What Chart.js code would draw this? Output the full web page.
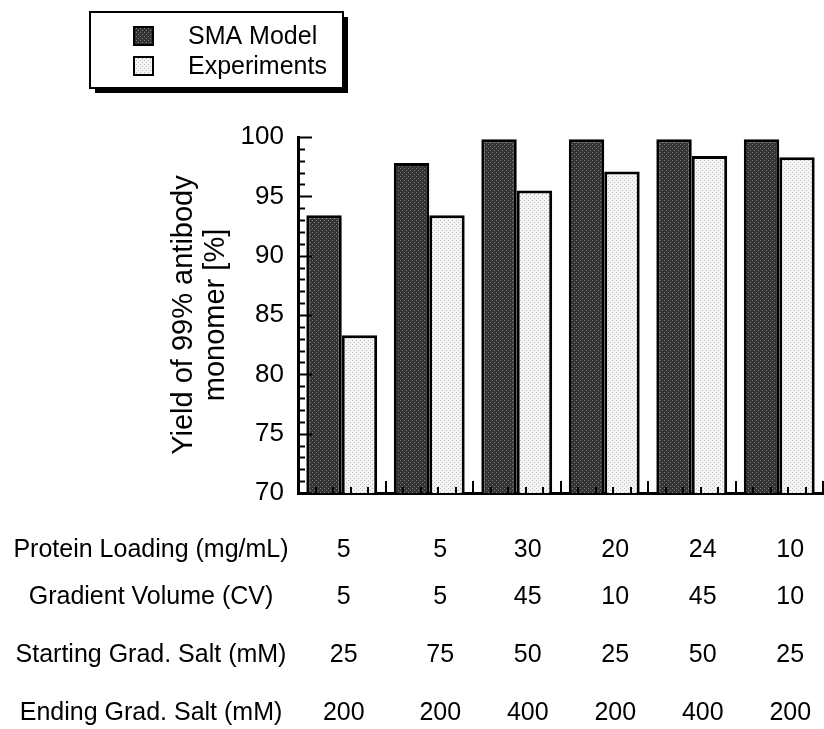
<!DOCTYPE html>
<html>
<head>
<meta charset="utf-8">
<script src="https://cdn.jsdelivr.net/npm/chart.js@4.4.1/dist/chart.umd.min.js"></script>
<style>
  html, body { margin: 0; padding: 0; background: #fff; }
  #wrap { width: 824px; height: 729px; }
</style>
</head>
<body>
<div id="wrap"><canvas id="chart" width="824" height="729"></canvas></div>
<script>
// runs (categories along x)
const runs = ["Run 1", "Run 2", "Run 3", "Run 4", "Run 5", "Run 6"];

// yield of 99% antibody monomer [%]
const smaModel = [93.4, 97.8, 99.8, 99.8, 99.8, 99.8];
const experiments = [83.3, 93.4, 95.5, 97.1, 98.4, 98.3];

// operating conditions table under the plot
const rowLabels = [
  "Protein Loading (mg/mL)",
  "Gradient Volume (CV)",
  "Starting Grad. Salt (mM)",
  "Ending Grad. Salt (mM)"
];
const proteinLoading = ["5", "5", "30", "20", "24", "10"];
const gradientVolume = ["5", "5", "45", "10", "45", "10"];
const startSalt = ["25", "75", "50", "25", "50", "25"];
const endSalt = ["200", "200", "400", "200", "400", "200"];
const tableRows = [proteinLoading, gradientVolume, startSalt, endSalt];

const FONT = "'Liberation Sans', Arial, Helvetica, sans-serif";

// speckled grey fills, like the halftone of the scan
function speckle(dark, light, mod) {
  const c = document.createElement("canvas");
  c.width = 8; c.height = 8;
  const g = c.getContext("2d");
  g.fillStyle = dark;
  g.fillRect(0, 0, 8, 8);
  g.fillStyle = light;
  for (let y = 0; y < 8; y++) {
    for (let x = 0; x < 8; x++) {
      if ((x * 5 + y * 3 + x * y) % mod === 0) g.fillRect(x, y, 1, 1);
    }
  }
  return g.createPattern(c, "repeat");
}

const ctx = document.getElementById("chart").getContext("2d");
const darkFill = speckle("#333333", "#808080", 4);
const lightFill = speckle("#f4f4f4", "#bdbdbd", 4);

const extras = {
  id: "extras",
  afterDatasetsDraw(chart) {
    const { ctx, chartArea, scales: { x, y } } = chart;
    ctx.save();
    ctx.strokeStyle = "#000";
    ctx.lineWidth = 2;
    // inward y ticks: every 1 (minor), every 5 (major)
    for (let v = y.min; v <= y.max; v++) {
      const py = Math.round(y.getPixelForValue(v)) + 0.5;
      const len = v % 5 === 0 ? 14 : 7;
      ctx.beginPath();
      ctx.moveTo(chartArea.left, py);
      ctx.lineTo(chartArea.left + len, py);
      ctx.stroke();
    }
    // upward x ticks: category borders and fifths
    const n = runs.length;
    for (let i = 0; i < n; i++) {
      for (let k = 1; k <= 5; k++) {
        const px = Math.round(x.getPixelForValue(i - 0.5 + k / 5));
        const len = k === 5 ? 12 : 6;
        ctx.beginPath();
        ctx.moveTo(px, chartArea.bottom);
        ctx.lineTo(px, chartArea.bottom - len);
        ctx.stroke();
      }
    }
    ctx.restore();
  },
  afterDraw(chart) {
    const { ctx, scales: { x } } = chart;
    ctx.save();
    // legend box with drop shadow
    const bx = 90, by = 12, bw = 253, bh = 76;
    ctx.fillStyle = "#000";
    ctx.fillRect(bx + 5, by + 5, bw, bh);
    ctx.fillStyle = "#fff";
    ctx.fillRect(bx, by, bw, bh);
    ctx.lineWidth = 2;
    ctx.strokeStyle = "#000";
    ctx.strokeRect(bx, by, bw, bh);
    ctx.font = "25px " + FONT;
    ctx.textBaseline = "middle";
    ctx.textAlign = "left";
    chart.data.datasets.forEach((ds, i) => {
      const sy = 27 + i * 30;
      ctx.fillStyle = ds.backgroundColor;
      ctx.fillRect(134, sy, 19, 18);
      ctx.strokeRect(134, sy, 19, 18);
      ctx.fillStyle = "#000";
      ctx.fillText(ds.label, 188, sy + 10);
    });
    // conditions table
    const rowY = [550, 597, 655, 713];
    ctx.fillStyle = "#000";
    tableRows.forEach((row, r) => {
      ctx.textAlign = "center";
      ctx.fillText(rowLabels[r], 151, rowY[r]);
      row.forEach((val, i) => {
        const px = x.getPixelForValue(i) + (i ? 11 : 2);
        ctx.fillText(val, px, rowY[r]);
      });
    });
    ctx.restore();
  }
};

new Chart(ctx, {
  type: "bar",
  data: {
    labels: runs,
    datasets: [
      {
        label: "SMA Model",
        data: smaModel,
        backgroundColor: darkFill,
        borderColor: "#000",
        borderWidth: 3
      },
      {
        label: "Experiments",
        data: experiments,
        backgroundColor: lightFill,
        borderColor: "#000",
        borderWidth: 3
      }
    ]
  },
  options: {
    responsive: false,
    animation: false,
    categoryPercentage: 0.81,
    barPercentage: 1.0,
    layout: { padding: { left: 158, top: 137, right: 1, bottom: 0 } },
    plugins: {
      legend: { display: false },
      tooltip: { enabled: false }
    },
    scales: {
      x: {
        grid: { display: false, drawTicks: false },
        border: { display: true, color: "#000", width: 3 },
        ticks: { display: false },
        afterFit(scale) { scale.height = 236; }
      },
      y: {
        min: 70,
        max: 100,
        grid: { display: false, drawTicks: false },
        border: { display: true, color: "#000", width: 3 },
        ticks: {
          stepSize: 5,
          padding: 14,
          color: "#000",
          font: { family: FONT, size: 26 }
        },
        title: {
          display: true,
          text: ["Yield of 99% antibody", "monomer [%]"],
          color: "#000",
          font: { family: FONT, size: 29, lineHeight: 1.1 },
          padding: { top: 10, bottom: 0 }
        },
        afterFit(scale) { scale.width = 140; }
      }
    }
  },
  plugins: [extras]
});
</script>
</body>
</html>
